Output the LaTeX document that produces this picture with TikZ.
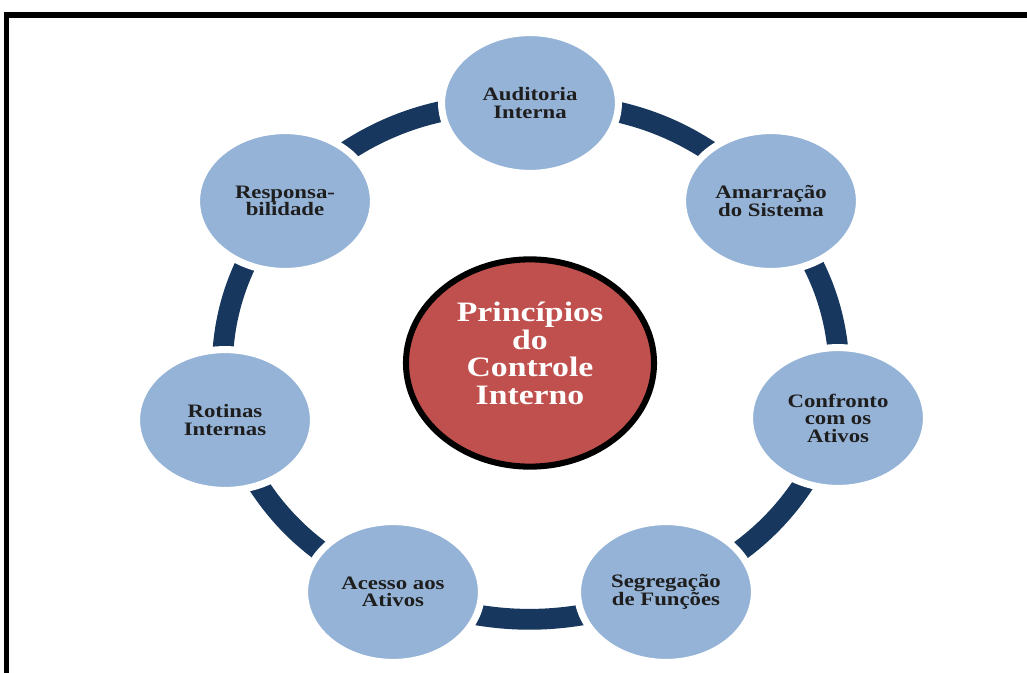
\documentclass[tikz,border=0pt]{standalone}
\usepackage{fontspec}
\setmainfont{Liberation Serif}[FakeStretch=1.2]
\usetikzlibrary{shapes.geometric,backgrounds}
\definecolor{azulclaro}{RGB}{149,179,215}
\definecolor{azulanel}{RGB}{23,55,94}
\definecolor{vermelho}{RGB}{192,80,77}
\definecolor{textoesc}{RGB}{30,30,30}
\tikzset{
  principio/.style={ellipse, fill=azulclaro, draw=white, line width=5pt,
    minimum width=4.42cm, minimum height=3.52cm, inner sep=0pt, align=center,
    text=textoesc, font=\bfseries\fontsize{13.5}{12.5}\selectfont},
  anel/.style={draw=azulanel, line width=0.52cm},
}
\begin{document}
\begin{tikzpicture}[x=0.025cm, y=-0.025cm]
    \useasboundingbox (0,0) rectangle (1027,672);
    \clip (0,0) rectangle (1027,672);
    %Moldura
    \draw[line width=4pt] (6.5,15) rectangle (1060,700);
    %Centro
    \node[ellipse, draw=black, line width=4.3pt, fill=vermelho, minimum width=6.2cm, minimum height=5.18cm,
          inner sep=0pt, align=center, text=white, text depth=14pt, font=\bfseries\fontsize{20}{19.6}\selectfont]
          (centro) at (530,363) {Princípios\\do\\Controle\\Interno};
    %Princípios
    \node[principio] (aud) at (530,103) {Auditoria\\Interna};
    \node[principio] (ama) at (771,201) {Amarração\\do Sistema};
    \node[principio] (con) at (838,418) {Confronto\\com os\\Ativos};
    \node[principio] (seg) at (666,592) {Segregação\\de Funções};
    \node[principio] (ace) at (393,592) {Acesso aos\\Ativos};
    \node[principio] (rot) at (225,420) {Rotinas\\Internas};
    \node[principio] (res) at (285,201) {Responsa-\\bilidade};
    %Anel
    \begin{scope}[on background layer]
    \draw[anel] (aud.center) to[bend left=22] (ama.center);
    \draw[anel] (ama.center) to[bend left=22] (con.center);
    \draw[anel] (con.center) to[bend left=22] (seg.center);
    \draw[anel] (seg.center) to[bend left=20] (ace.center);
    \draw[anel] (ace.center) to[bend left=22] (rot.center);
    \draw[anel] (rot.center) to[bend left=22] (res.center);
    \draw[anel] (res.center) to[bend left=22] (aud.center);
    \end{scope}
\end{tikzpicture}
\end{document}
